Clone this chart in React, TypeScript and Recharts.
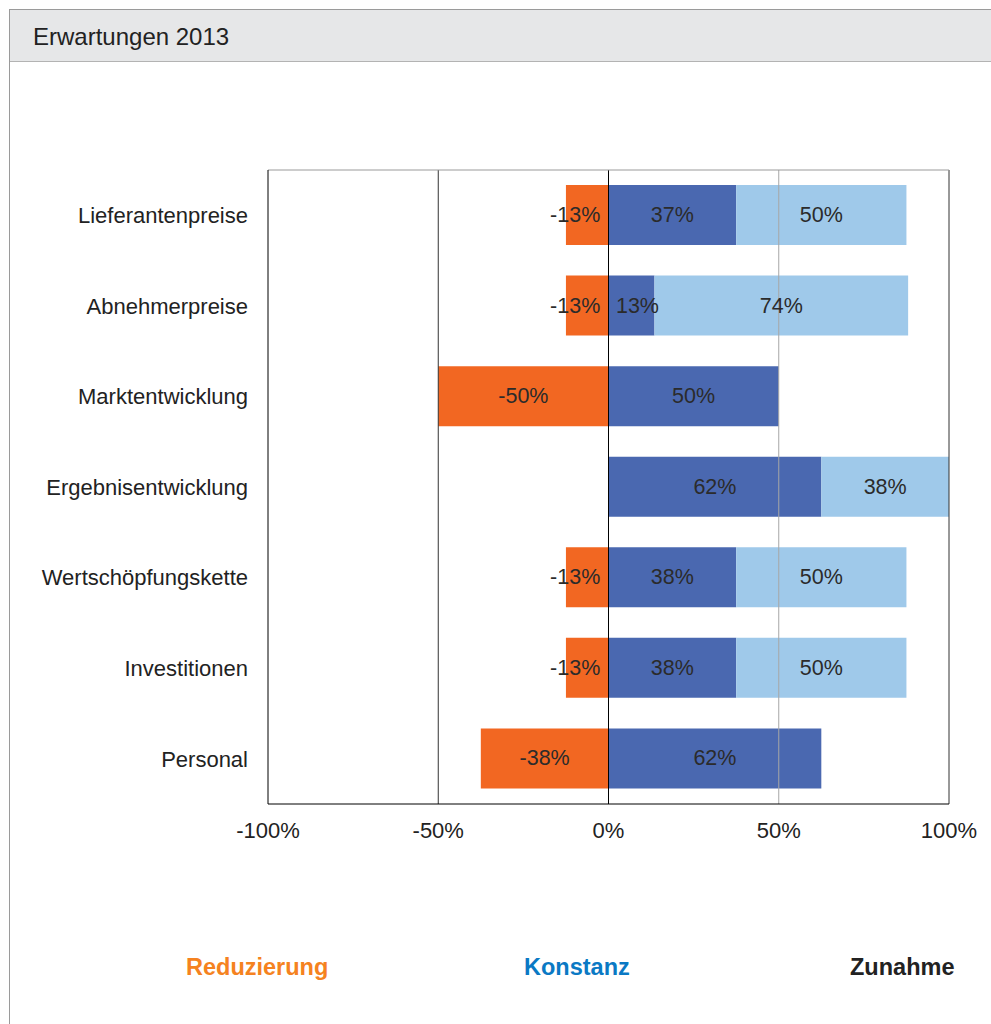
import React from 'react';
import { BarChart, Bar, XAxis, YAxis, ReferenceLine, LabelList } from 'recharts';

const categories = ['Lieferantenpreise', 'Abnehmerpreise', 'Marktentwicklung', 'Ergebnisentwicklung', 'Wertschöpfungskette', 'Investitionen', 'Personal'];
const reduzierung = [-12.5, -12.5, -50, 0, -12.5, -12.5, -37.5];
const konstanz = [37.5, 13.5, 50, 62.5, 37.5, 37.5, 62.5];
const zunahme = [50, 74.5, 0, 37.5, 50, 50, 0];
const reduzierungLabels = ['-13%', '-13%', '-50%', '', '-13%', '-13%', '-38%'];
const konstanzLabels = ['37%', '13%', '50%', '62%', '38%', '38%', '62%'];
const zunahmeLabels = ['50%', '74%', '', '38%', '50%', '50%', ''];
const xTicks = [-100, -50, 0, 50, 100];

const FONT = '"Liberation Sans", Arial, sans-serif';

const styles = {
    page: {
        position: 'absolute',
        left: 0,
        top: 0,
        width: 991,
        height: 1024,
        overflow: 'hidden',
        background: '#fff',
        fontFamily: FONT,
    } as React.CSSProperties,
    frame: {
        position: 'absolute',
        left: 9,
        top: 9,
        width: 1000,
        height: 1100,
        borderLeft: '1px solid #9a9a9a',
        borderTop: '1px solid #9a9a9a',
    } as React.CSSProperties,
    header: {
        position: 'absolute',
        left: 10,
        top: 10,
        width: 1000,
        height: 52,
        background: '#e6e7e8',
        borderBottom: '1px solid #b3b3b3',
        color: '#222',
        fontSize: 24,
        lineHeight: '54px',
        paddingLeft: 23,
        boxSizing: 'border-box',
    } as React.CSSProperties,
    chart: {
        position: 'absolute',
        left: 0,
        top: 0,
    } as React.CSSProperties,
    legendItem: {
        position: 'absolute',
        top: 952,
        fontSize: 23.5,
        fontWeight: 700,
        lineHeight: '30px',
    } as React.CSSProperties,
};

const data = categories.map((name, i) => ({
    name,
    reduzierung: reduzierung[i],
    konstanz: konstanz[i],
    zunahme: zunahme[i],
    redLabel: reduzierungLabels[i],
    konLabel: konstanzLabels[i],
    zunLabel: zunahmeLabels[i],
}));

const renderLabel = (props: any) => {
    const { x, y, width, height, value } = props;
    if (!value) return null;
    const left = Math.min(x, x + width);
    const w = Math.abs(width);
    let cx = left + w / 2;
    // narrow bars: Excel pushes the label away from the zero line
    if (w < 50) cx += value.startsWith('-') ? -12 : 6;
    return (
        <text x={cx} y={y + height / 2} textAnchor="middle" dominantBaseline="central"
            fontSize={21.5} fill="#2b2b2b" fontFamily={FONT}>
            {value}
        </text>
    );
};

const App = () => {
    return (
        <div style={styles.page}>
            <div style={styles.frame} />
            <div style={styles.header}>Erwartungen 2013</div>
            <div style={styles.chart}>
                <BarChart
                    width={991}
                    height={1024}
                    data={data}
                    layout="vertical"
                    stackOffset="sign"
                    barSize={60}
                    margin={{ top: 169, right: 42, bottom: 180, left: 0 }}
                >
                    <XAxis
                        type="number"
                        domain={[-100, 100]}
                        ticks={xTicks}
                        tickFormatter={(v: number) => `${v}%`}
                        height={40}
                        axisLine={{ stroke: '#000' }}
                        tickLine={false}
                        tickMargin={12}
                        tick={{ fontSize: 22, fill: '#222', fontFamily: FONT }}
                        interval={0}
                    />
                    <XAxis
                        xAxisId="top"
                        orientation="top"
                        type="number"
                        domain={[-100, 100]}
                        height={1}
                        tick={false}
                        tickLine={false}
                        axisLine={{ stroke: '#9a9a9a' }}
                    />
                    <YAxis
                        type="category"
                        dataKey="name"
                        width={268}
                        axisLine={{ stroke: '#000' }}
                        tickLine={false}
                        tickMargin={14}
                        tick={{ fontSize: 22, fill: '#222', fontFamily: FONT }}
                        interval={0}
                    />
                    <ReferenceLine x={-50} stroke="#333" />
                    <ReferenceLine x={50} stroke="#a6a6a6" />
                    <ReferenceLine x={100} stroke="#333" />
                    <Bar dataKey="reduzierung" stackId="a" fill="#f26722" isAnimationActive={false}>
                        <LabelList dataKey="redLabel" content={renderLabel} />
                    </Bar>
                    <Bar dataKey="konstanz" stackId="a" fill="#4a68b0" isAnimationActive={false}>
                        <LabelList dataKey="konLabel" content={renderLabel} />
                    </Bar>
                    <Bar dataKey="zunahme" stackId="a" fill="#9fc9ea" isAnimationActive={false}>
                        <LabelList dataKey="zunLabel" content={renderLabel} />
                    </Bar>
                    <ReferenceLine x={0} stroke="#000" />
                </BarChart>
            </div>
            <div style={{ ...styles.legendItem, left: 186, color: '#f58220' }}>Reduzierung</div>
            <div style={{ ...styles.legendItem, left: 524, color: '#0a79c4' }}>Konstanz</div>
            <div style={{ ...styles.legendItem, left: 850, color: '#222' }}>Zunahme</div>
        </div>
    );
};

export default App;
